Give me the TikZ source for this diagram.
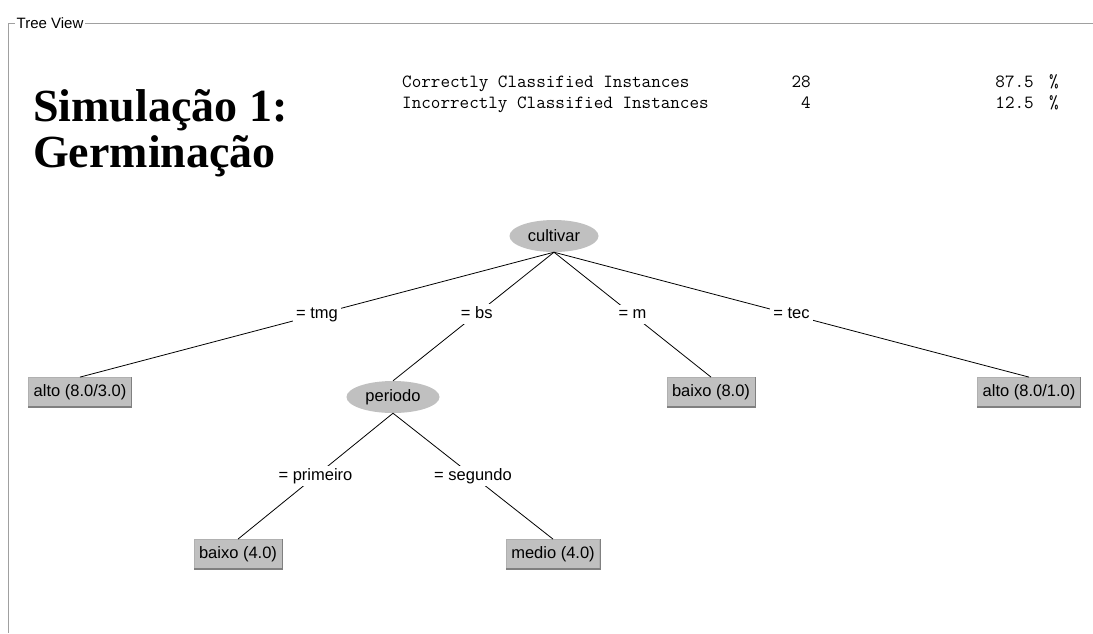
\documentclass[tikz,border=0pt]{standalone}
\usepackage{fontspec}
\setmainfont{Liberation Sans}
\newfontfamily\titlefont{Liberation Serif}
\usetikzlibrary{shapes.geometric}
\definecolor{nodegray}{HTML}{C0C0C0}
\definecolor{framegray}{HTML}{A0A0A0}
\definecolor{darkedge}{HTML}{808080}
\definecolor{lightedge}{HTML}{B0B0B0}
\begin{document}
\begin{tikzpicture}[x=1pt,y=-1pt,
  treefont/.style={font=\fontsize{16.5}{18}\selectfont},
  inner/.style={ellipse, fill=nodegray, inner sep=0pt, minimum height=32pt, treefont},
  leaf/.style={rectangle, fill=nodegray, draw=lightedge, line width=0.8pt, minimum height=29pt, inner xsep=5pt, inner ysep=0pt, treefont},
  lbl/.style={fill=white, inner xsep=3pt, inner ysep=2pt, text height=12pt, text depth=3.5pt, treefont},
  edge/.style={black, line width=0.8pt},
  stat/.style={anchor=base west, inner sep=0pt, font=\ttfamily\fontsize{18.6}{20}\selectfont},
  titletext/.style={anchor=base west, inner sep=0pt, font=\titlefont\bfseries\fontsize{46}{48}\selectfont}]
\useasboundingbox (0,0) rectangle (1093,633);
\fill[white] (0,0) rectangle (1093,633);
% frame
\draw[framegray, line width=1pt] (1093,23) -- (8.5,23) -- (8.5,633);
\node[fill=white, inner xsep=1.5pt, inner ysep=1pt, anchor=west, font=\fontsize{15}{17}\selectfont] (frametitle) at (15,23) {Tree View};
% title
\node[titletext] (title1) at (33,121) {Simulação 1:};
\node[titletext] (title2) at (33,167) {Germinação};
% statistics
\node[stat] (s1) at (402,87) {Correctly Classified Instances};
\node[stat] (s2) at (402,108) {Incorrectly Classified Instances};
\node[stat, anchor=base east] (n1) at (811,87) {28};
\node[stat, anchor=base east] (n2) at (811,108) {4};
\node[stat, anchor=base east] (p1) at (1034,87) {87.5};
\node[stat, anchor=base east] (p2) at (1034,108) {12.5};
\node[stat] (pc1) at (1049,87) {\%};
\node[stat] (pc2) at (1049,108) {\%};
% tree nodes
\node[inner, minimum width=89pt] (cult) at (554,236) {cultivar};
\node[inner, minimum width=93pt] (per) at (393,397) {periodo};
\node[leaf] (a1) at (80,392) {alto (8.0/3.0)};
\node[leaf] (b8) at (711,392) {baixo (8.0)};
\node[leaf] (a2) at (1029,392) {alto (8.0/1.0)};
\node[leaf] (b4) at (238,554) {baixo (4.0)};
\node[leaf] (m4) at (553,554) {medio (4.0)};
\foreach \n in {a1,b8,a2,b4,m4}{
  \draw[darkedge, line width=1.2pt] (\n.north east) -- (\n.south east) -- (\n.south west);
}
% edges
\draw[edge] (cult.south) -- (a1.north) node[midway, lbl] {= tmg};
\draw[edge] (cult.south) -- (per.north) node[pos=0.48, lbl] {= bs};
\draw[edge] (cult.south) -- (b8.north) node[midway, lbl] {= m};
\draw[edge] (cult.south) -- (a2.north) node[midway, lbl] {= tec};
\draw[edge] (per.south) -- (b4.north) node[midway, lbl] {= primeiro};
\draw[edge] (per.south) -- (m4.north) node[midway, lbl] {= segundo};
\end{tikzpicture}
\end{document}
